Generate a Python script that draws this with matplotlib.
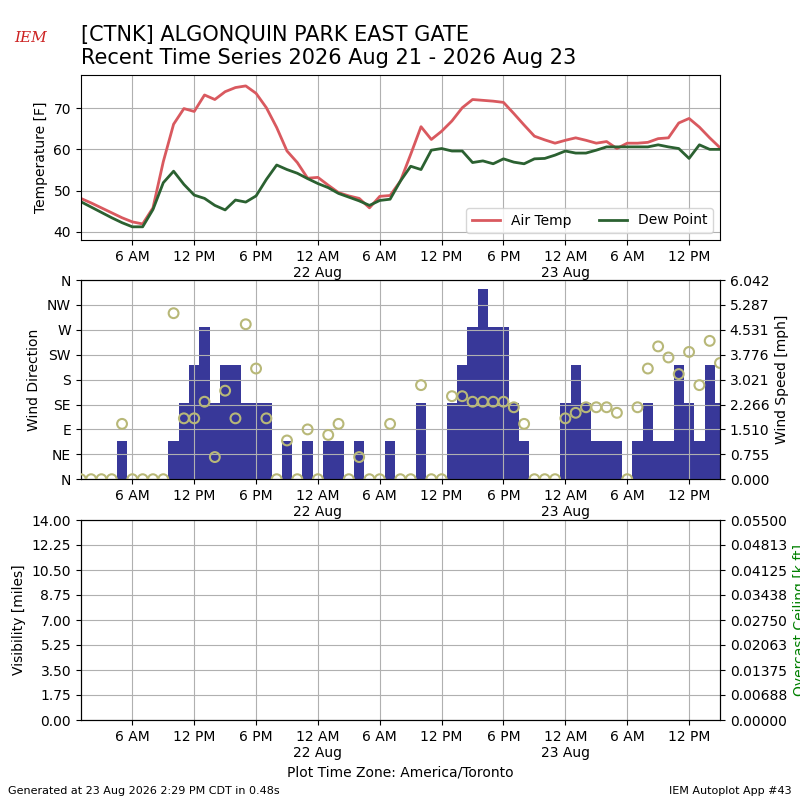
import matplotlib
matplotlib.use('Agg')
import matplotlib.pyplot as plt
import numpy as np
import pandas as pd

# hourly observations, Aug 21 01:00 -> Aug 23 15:00 (America/Toronto)
times = pd.date_range('2026-08-21 01:00', '2026-08-23 15:00', freq='h')

air_temp = [48.1, 47.0, 45.8, 44.6, 43.4, 42.4, 41.9, 45.8, 57.0, 66.1,
            69.9, 69.2, 73.2, 72.1, 74.0, 75.0, 75.4, 73.6, 70.1, 65.3,
            59.6, 56.8, 53.0, 53.2, 51.3, 49.5, 48.7, 48.1, 45.8, 48.6,
            48.8, 52.3, 58.8, 65.5, 62.4, 64.4, 66.9, 70.1, 72.1, 71.9,
            71.7, 71.4, 68.7, 65.9, 63.2, 62.3, 61.5, 62.2, 62.8, 62.2,
            61.5, 61.9, 60.2, 61.5, 61.5, 61.7, 62.6, 62.8, 66.4, 67.5,
            65.4, 62.8, 60.4]
dew_point = [47.3, 46.0, 44.7, 43.4, 42.2, 41.2, 41.2, 45.4, 51.9, 54.7,
             51.5, 48.9, 48.1, 46.4, 45.3, 47.7, 47.2, 48.7, 52.7, 56.2,
             55.1, 54.2, 52.9, 51.7, 50.7, 49.3, 48.4, 47.5, 46.4, 47.6,
             47.9, 52.3, 55.9, 55.1, 59.8, 60.2, 59.6, 59.6, 56.8, 57.2,
             56.5, 57.7, 56.9, 56.5, 57.7, 57.8, 58.6, 59.6, 59.1, 59.1,
             59.8, 60.6, 60.6, 60.6, 60.6, 60.6, 61.1, 60.6, 60.2, 57.8,
             61.1, 60.0, 60.0]
# wind speed in knots
wind_kt = [0, 0, 0, 0, 1, 0, 0, 0, 0, 1,
           2, 3, 4, 2, 3, 3, 2, 2, 2, 0,
           1, 0, 1, 0, 1, 1, 0, 1, 0, 0,
           1, 0, 0, 2, 0, 0, 2, 3, 4, 5,
           4, 4, 2, 1, 0, 0, 0, 2, 3, 2,
           1, 1, 1, 0, 1, 2, 1, 1, 3, 2,
           1, 3, 2]
wind_dir = [0, 0, 0, 0, 100, 0, 0, 0, 0, 300,
            110, 110, 140, 40, 160, 110, 280, 200, 110, 0,
            70, 0, 90, 0, 80, 100, 0, 40, 0, 0,
            100, 0, 0, 170, 0, 0, 150, 150, 140, 140,
            140, 140, 130, 100, 0, 0, 0, 110, 120, 130,
            130, 130, 120, 0, 130, 200, 240, 220, 190, 230,
            170, 250, 210]

wind_mph = np.array(wind_kt) * 1.15078

fig = plt.figure(figsize=(8, 8), dpi=100)

xmin, xmax = times[0], times[-1]
ticks = pd.date_range('2026-08-21 06:00', '2026-08-23 12:00', freq='6h')


def fmt_tick(t):
    s = t.strftime('%-I %p')
    if t.hour == 0:
        s += '\n' + t.strftime('%-d %b')
    return s


ticklabels = [fmt_tick(t) for t in ticks]


def setup_x(ax):
    ax.set_xlim(xmin, xmax)
    ax.set_xticks(ticks)
    ax.set_xticklabels(ticklabels)
    ax.grid(True, color='#b0b0b0')


# temperature panel
ax1 = fig.add_axes([0.101, 0.70, 0.799, 0.206])
ax1.plot(times, air_temp, color='#d9595f', lw=2, label='Air Temp')
ax1.plot(times, dew_point, color='#2b6131', lw=2, label='Dew Point')
ax1.set_ylim(38, 78)
ax1.set_yticks([40, 50, 60, 70])
ax1.set_ylabel('Temperature [F]')
setup_x(ax1)
ax1.legend(loc='lower right', ncol=2)

# wind panel
ax2 = fig.add_axes([0.101, 0.401, 0.799, 0.249])
ax2b = ax2.twinx()
ax2b.bar(times, wind_mph, width=1 / 24, color='#383899', align='center')
ax2b.set_ylim(0, 6.042)
ax2b.set_yticks(np.linspace(0, 6.042, 9))
ax2b.set_yticklabels(['%.3f' % v for v in np.linspace(0, 6.042, 9)])
ax2b.set_ylabel('Wind Speed [mph]')
ax2.scatter(times, wind_dir, s=50, facecolors='none', edgecolors='#b8b878',
            linewidths=1.5, zorder=5)
ax2.set_ylim(0, 360)
ax2.set_yticks(range(0, 361, 45))
ax2.set_yticklabels(['N', 'NE', 'E', 'SE', 'S', 'SW', 'W', 'NW', 'N'])
ax2.set_ylabel('Wind Direction')
ax2.set_zorder(ax2b.get_zorder() + 1)
ax2.patch.set_visible(False)
setup_x(ax2)

# visibility panel
ax3 = fig.add_axes([0.101, 0.10, 0.799, 0.25])
ax3.set_ylim(0, 14)
ax3.set_yticks(np.arange(0, 14.01, 1.75))
ax3.set_yticklabels(['%.2f' % v for v in np.arange(0, 14.01, 1.75)])
ax3.set_ylabel('Visibility [miles]')
setup_x(ax3)
ax3.set_xlabel('Plot Time Zone: America/Toronto')
ax3b = ax3.twinx()
ax3b.set_ylim(0, 0.055)
ax3b.set_yticks(np.linspace(0, 0.055, 9))
ax3b.set_yticklabels(['%.5f' % v for v in np.linspace(0, 0.055, 9)])
ax3b.set_ylabel('Overcast Ceiling [k ft]', color='green')

fig.text(0.101, 0.915, '[CTNK] ALGONQUIN PARK EAST GATE\nRecent Time Series 2026 Aug 21 - 2026 Aug 23',
         fontsize=15, ha='left', va='bottom')
fig.text(0.038, 0.952, 'IEM', color='#cc2222', fontsize=11, style='italic',
         ha='center', va='center', fontfamily='serif')
fig.text(0.01, 0.008, 'Generated at 23 Aug 2026 2:29 PM CDT in 0.48s', fontsize=8)
fig.text(0.99, 0.008, 'IEM Autoplot App #43', fontsize=8, ha='right')

fig.savefig('out.png', dpi=100)
